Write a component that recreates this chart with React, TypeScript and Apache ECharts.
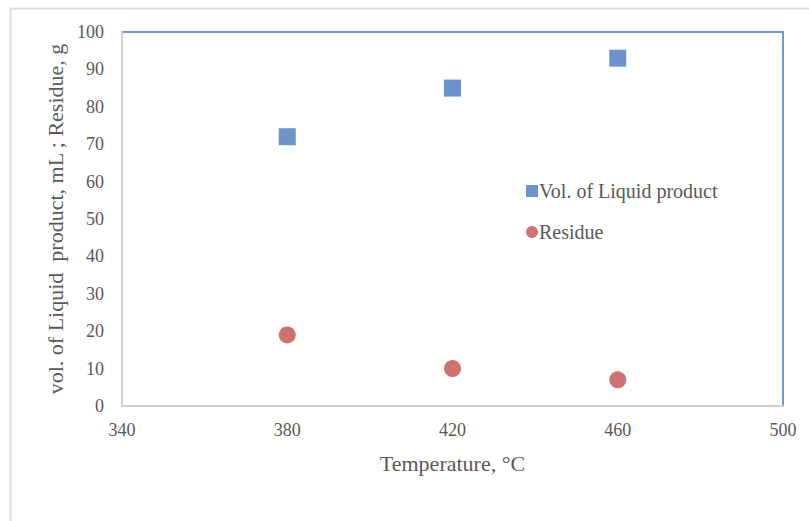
import React, { useEffect, useRef } from "react";
import * as echarts from "echarts";

const temperatures = [380, 420, 460];
const liquidVolume = [72, 85, 93];
const residue = [19, 10, 7];
const seriesNames = ["Vol. of Liquid product", "Residue"];
const xTitle = "Temperature, °C";
const yTitle = "vol. of Liquid  product, mL ; Residue, g";

const FONT = "'Liberation Serif', 'Times New Roman', serif";

export default function App() {
  const ref = useRef<HTMLDivElement>(null);
  useEffect(() => {
    if (!ref.current) return;
    const chart = echarts.init(ref.current, null, { renderer: "svg" });
    chart.setOption({
      animation: false,
      backgroundColor: "#ffffff",
      textStyle: { fontFamily: FONT },
      graphic: [
        {
          type: "rect",
          shape: { x: 10.5, y: 8.5, width: 900, height: 700 },
          style: { fill: "none", stroke: "#dedede", lineWidth: 2 },
          silent: true,
          z: -10,
        },
      ],
      grid: {
        left: 122,
        top: 32,
        right: 26,
        bottom: 115,
        show: true,
        borderColor: "#6f9ad6",
        borderWidth: 2,
        backgroundColor: "transparent",
      },
      legend: {
        orient: "vertical",
        left: 521,
        top: 176,
        itemWidth: 12,
        itemHeight: 12,
        itemGap: 21,
        textStyle: { fontFamily: FONT, fontSize: 20, color: "#595959", padding: [0, 0, 0, -4] },
        data: [
          { name: seriesNames[0], icon: "rect" },
          { name: seriesNames[1], icon: "circle" },
        ],
      },
      xAxis: {
        type: "value",
        min: 340,
        max: 500,
        interval: 40,
        name: xTitle,
        nameLocation: "middle",
        nameGap: 46,
        nameTextStyle: { fontFamily: FONT, fontSize: 22, color: "#595959" },
        axisLine: { show: true, lineStyle: { color: "#d0d0d0", width: 2 } },
        axisTick: { show: false },
        splitLine: { show: false },
        axisLabel: { fontFamily: FONT, fontSize: 18, color: "#595959", margin: 15 },
      },
      yAxis: {
        type: "value",
        min: 0,
        max: 100,
        interval: 10,
        name: yTitle,
        nameLocation: "middle",
        nameGap: 51,
        nameTextStyle: { fontFamily: FONT, fontSize: 22, color: "#595959" },
        axisLine: { show: true, lineStyle: { color: "#d0d0d0", width: 2 } },
        axisTick: { show: false },
        splitLine: { show: false },
        axisLabel: { fontFamily: FONT, fontSize: 18, color: "#595959", margin: 18 },
      },
      series: [
        {
          name: seriesNames[0],
          type: "scatter",
          symbol: "rect",
          symbolSize: 17,
          itemStyle: { color: "#4878c0" },
          data: temperatures.map((t, i) => [t, liquidVolume[i]]),
        },
        {
          name: seriesNames[1],
          type: "scatter",
          symbol: "circle",
          symbolSize: 17,
          itemStyle: { color: "#c24d4b" },
          data: temperatures.map((t, i) => [t, residue[i]]),
        },
      ],
    });
    return () => chart.dispose();
  }, []);
  return (
    <div
      ref={ref}
      style={{ position: "fixed", left: 0, top: 0, width: 809, height: 521 }}
    />
  );
}
